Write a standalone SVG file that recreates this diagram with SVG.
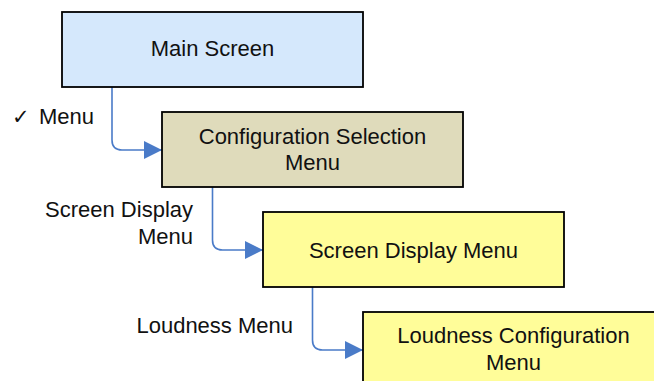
<svg xmlns="http://www.w3.org/2000/svg" width="654" height="381" viewBox="0 0 654 381">
<defs>
<style>
.box{stroke:#000;stroke-width:1.8}
.t{font-family:"Liberation Sans",Arial,"DejaVu Sans",sans-serif;font-size:22px;fill:#111}
.c{text-anchor:middle}
.r{text-anchor:end}
.chk{font-family:"DejaVu Sans",sans-serif;font-size:21px}
.conn{fill:none;stroke:#4A7BC8;stroke-width:1.6}
</style>
<marker id="arr" markerWidth="18" markerHeight="18" refX="18" refY="9" orient="auto" markerUnits="userSpaceOnUse">
<path d="M0,0 L18,9 L0,18 Z" fill="#4A7BC8"/>
</marker>
</defs>
<rect width="654" height="381" fill="#fff"/>
<g id="connectors">
<path class="conn" d="M112,87 V140 Q112,150 122,150 H162" marker-end="url(#arr)"/>
<path class="conn" d="M212.5,187 V240 Q212.5,250 222.5,250 H263" marker-end="url(#arr)"/>
<path class="conn" d="M312.5,287 V340 Q312.5,350 322.5,350 H363" marker-end="url(#arr)"/>
<text class="t" x="12" y="124"><tspan class="chk">✓</tspan><tspan x="39">Menu</tspan></text>
<text class="t r" x="193" y="217">Screen Display</text>
<text class="t r" x="193" y="243.5">Menu</text>
<text class="t r" x="293" y="332.5">Loudness Menu</text>
</g>
<g id="main-screen">
<rect class="box" x="62" y="12" width="301" height="75" fill="#D5E8FC"/>
<text class="t c" x="212.5" y="56">Main Screen</text>
</g>
<g id="config-selection">
<rect class="box" x="162" y="112" width="301" height="75" fill="#DFDBBB"/>
<text class="t c" x="312.5" y="143.5">Configuration Selection</text>
<text class="t c" x="312.5" y="170">Menu</text>
</g>
<g id="screen-display">
<rect class="box" x="263" y="212" width="301" height="75" fill="#FFFD99"/>
<text class="t c" x="413.5" y="257.5">Screen Display Menu</text>
</g>
<g id="loudness-config">
<rect class="box" x="363" y="312" width="301" height="75" fill="#FFFD99"/>
<text class="t c" x="513.5" y="343">Loudness Configuration</text>
<text class="t c" x="513.5" y="369.5">Menu</text>
</g>
</svg>
